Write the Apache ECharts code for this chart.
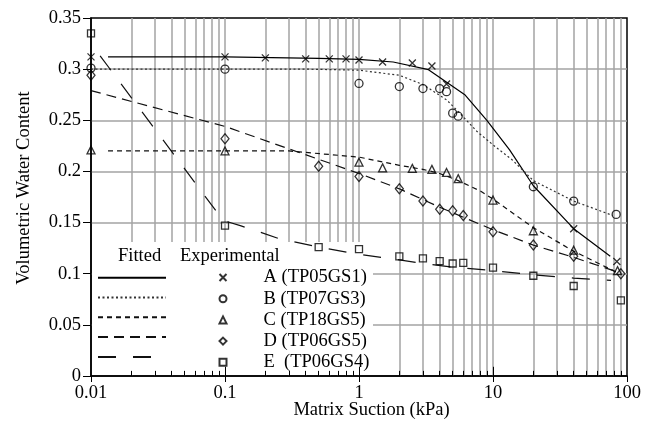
<!DOCTYPE html>
<html><head><meta charset="utf-8">
<script src="https://cdn.jsdelivr.net/npm/echarts@6/dist/echarts.min.js"></script>
<style>html,body{margin:0;padding:0;background:#fff}#c{width:650px;height:421px}</style>
</head><body><div id="c"></div>
<script>
// ---- data ----
const seriesNames = ['A (TP05GS1)', 'B (TP07GS3)', 'C (TP18GS5)', 'D (TP06GS5)', 'E  (TP06GS4)'];
const fitNames = ['A fitted', 'B fitted', 'C fitted', 'D fitted', 'E fitted'];

const expA = [[0.01,0.312],[0.1,0.312],[0.2,0.311],[0.4,0.310],[0.6,0.310],[0.8,0.310],[1,0.309],[1.5,0.307],[2.5,0.306],[3.5,0.303],[4.5,0.2855],[40,0.144],[84,0.112]];
const expB = [[0.01,0.301],[0.1,0.300],[1,0.286],[2,0.283],[3,0.281],[4,0.281],[4.5,0.278],[5,0.257],[5.5,0.254],[20,0.185],[40,0.171],[83,0.158]];
const expC = [[0.01,0.221],[0.1,0.220],[1,0.209],[1.5,0.2035],[2.5,0.203],[3.5,0.202],[4.5,0.199],[5.5,0.193],[10,0.172],[20,0.142],[40,0.123],[85,0.103]];
const expD = [[0.01,0.294],[0.1,0.232],[0.5,0.205],[1,0.195],[2,0.183],[3,0.171],[4,0.163],[5,0.1616],[6,0.157],[10,0.141],[20,0.128],[40,0.117],[90,0.100]];
const expE = [[0.01,0.335],[0.1,0.147],[0.5,0.126],[1,0.124],[2,0.117],[3,0.115],[4,0.1124],[5,0.110],[6,0.1105],[10,0.106],[20,0.098],[40,0.088],[90,0.074]];

const fitA = [[0.0134,0.312],[0.1,0.312],[0.5,0.3105],[1,0.3095],[1.8,0.307],[3.3,0.2995],[6.2,0.2747],[9,0.250],[13.3,0.221],[20,0.186],[40,0.144],[75,0.117]];
const fitB = [[0.01,0.300],[0.4,0.300],[1,0.299],[2,0.294],[3,0.285],[4.5,0.270],[5.65,0.257],[7.6,0.239],[10,0.226],[14,0.211],[20,0.191],[40,0.171],[78,0.157]];
const fitC = [[0.0134,0.220],[0.3,0.220],[1,0.214],[2,0.206],[3,0.202],[4,0.198],[5.5,0.191],[8,0.181],[10,0.173],[20,0.145],[40,0.122],[85,0.101]];
const fitD = [[0.01,0.279],[0.1,0.244],[1,0.198],[2,0.183],[4,0.165],[10,0.143],[20,0.128],[40,0.116],[88,0.101]];
const fitE = [[0.0117,0.313],[0.097,0.152],[0.13,0.147],[0.18,0.141],[0.25,0.1345],[0.5,0.126],[1,0.119],[2,0.1135],[3,0.110],[5,0.1065],[10,0.103],[20,0.099],[40,0.0957],[76,0.0935]];

const xTickValues = [0.01, 0.1, 1, 10, 100];
const yTickValues = [0, 0.05, 0.1, 0.15, 0.2, 0.25, 0.3, 0.35];
const xTitle = 'Matrix Suction (kPa)';
const yTitle = 'Volumetric Water Content';
const legendHeaders = ['Fitted', 'Experimental'];

// ---- build ----
const FONT = 'Liberation Serif';
const FS = 18.5;
const expData = [expA, expB, expC, expD, expE];
const fitData = [fitA, fitB, fitC, fitD, fitE];
const symbols = ['path://M0,0L10,10M10,0L0,10', 'circle', 'triangle', 'diamond', 'rect'];
const symSizes = [7, 8, 8, [8, 10], 7];
const dashes = ['solid', [2, 2.5], [5, 4], [10, 6], [18, 17]];
const fitColors = ['#000', '#333', '#111', '#111', '#111'];

const decades = xTickValues.slice(0, -1);
const gridX = [];
const minorX = [];
decades.forEach(d => {
  for (let k = 1; k <= 9; k++) {
    const v = Number((k * d).toPrecision(3));
    if (v === xTickValues[0]) continue;
    gridX.push(v);
    if (k > 1) minorX.push(v);
  }
});
const gridY = yTickValues.slice(1, -1);

const series = [];
series.push({
  name: 'grid', type: 'line', data: [], z: 0, silent: true,
  markLine: {
    silent: true, z: 0, symbol: ['none', 'none'], label: { show: false },
    emphasis: { disabled: true }, animation: false,
    lineStyle: { color: '#a3a3a3', width: 1.5, type: 'solid' },
    data: [...gridX.map(v => ({ xAxis: v })), ...gridY.map(v => ({ yAxis: v }))]
  }
});
series.push({
  name: 'ticks', type: 'line', data: [], z: 6, silent: true,
  markLine: {
    silent: true, z: 6, symbol: ['none', 'none'], label: { show: false },
    emphasis: { disabled: true }, animation: false,
    lineStyle: { color: '#000', width: 1, type: 'solid' },
    data: [
      ...minorX.map(v => [{ coord: [v, 0] }, { coord: [v, 0.005] }]),
      ...xTickValues.slice(1, -1).map(v => [{ coord: [v, 0] }, { coord: [v, 0.009] }])
    ]
  }
});
fitData.forEach((d, i) => {
  series.push({
    name: fitNames[i], type: 'line', data: d, symbol: 'none', showSymbol: false, z: 3,
    silent: true, animation: false,
    itemStyle: { color: 'rgba(0,0,0,0)' },
    lineStyle: { color: fitColors[i], width: 1.2, type: dashes[i] }
  });
});
expData.forEach((d, i) => {
  series.push({
    name: seriesNames[i], type: 'scatter', data: d, symbol: symbols[i], symbolSize: symSizes[i], z: 4,
    silent: true, animation: false,
    itemStyle: { color: 'rgba(255,255,255,0)', borderColor: '#000', borderWidth: 1.3 }
  });
});

const option = {
  animation: false,
  backgroundColor: '#fff',
  grid: { left: 91, right: 23, top: 18, bottom: 45, containLabel: false, outerBoundsMode: 'none',
          show: true, borderColor: '#000', borderWidth: 1.5, backgroundColor: 'transparent' },
  xAxis: {
    type: 'log', logBase: 10, min: xTickValues[0], max: xTickValues[xTickValues.length - 1], z: 5,
    axisLine: { show: true, lineStyle: { color: '#000', width: 1.5 } },
    axisTick: { show: true, inside: false, length: 6, lineStyle: { color: '#000', width: 1 } },
    minorTick: { show: false }, splitLine: { show: false },
    axisLabel: { margin: 8, fontFamily: FONT, fontSize: FS, color: '#000' },
    name: xTitle, nameLocation: 'middle', nameGap: 25, nameMoveOverlap: false,
    nameTextStyle: { fontFamily: FONT, fontSize: FS, color: '#000', padding: [0, 0, 0, 25] }
  },
  yAxis: {
    type: 'value', min: yTickValues[0], max: yTickValues[yTickValues.length - 1], interval: 0.05, z: 5,
    axisLine: { show: true, lineStyle: { color: '#000', width: 1.5 } },
    axisTick: { show: true, inside: false, length: 8, lineStyle: { color: '#000', width: 1 } },
    splitLine: { show: false },
    axisLabel: { margin: 10, fontFamily: FONT, fontSize: FS, color: '#000' },
    name: yTitle, nameLocation: 'middle', nameGap: 57,
    nameTextStyle: { fontFamily: FONT, fontSize: FS, color: '#000', padding: [0, 0, 0, 18] }
  },
  legend: [
    {
      data: fitNames, orient: 'vertical', left: 97, top: 270.7, itemWidth: 68, itemHeight: 14, itemGap: 7.2,
      selectedMode: false, formatter: () => '', textStyle: { fontSize: 1 }, padding: 0,
      itemStyle: { color: 'rgba(0,0,0,0)', borderColor: 'rgba(0,0,0,0)', borderWidth: 0, opacity: 0 }
    },
    {
      data: seriesNames, orient: 'vertical', left: 218.5, top: 267, itemWidth: 7, itemHeight: 7, itemGap: 0.2,
      selectedMode: false, padding: 0,
      formatter: n => '{g|}' + n,
      textStyle: { fontFamily: FONT, fontSize: FS, color: '#000', lineHeight: 21, rich: { g: { width: 32 } } }
    }
  ],
  graphic: [
    { type: 'rect', z: 1, silent: true, shape: { x: 92, y: 242, width: 281, height: 133 }, style: { fill: '#fff' } },
    { type: 'text', z: 10, left: 118, top: 247, style: { text: legendHeaders[0], font: FS + 'px "' + FONT + '"', fill: '#000' } },
    { type: 'text', z: 10, left: 180, top: 247, style: { text: legendHeaders[1], font: FS + 'px "' + FONT + '"', fill: '#000' } }
  ],
  series: series
};
const chart = echarts.init(document.getElementById('c'), null, { renderer: 'canvas' });
chart.setOption(option);
</script></body></html>
